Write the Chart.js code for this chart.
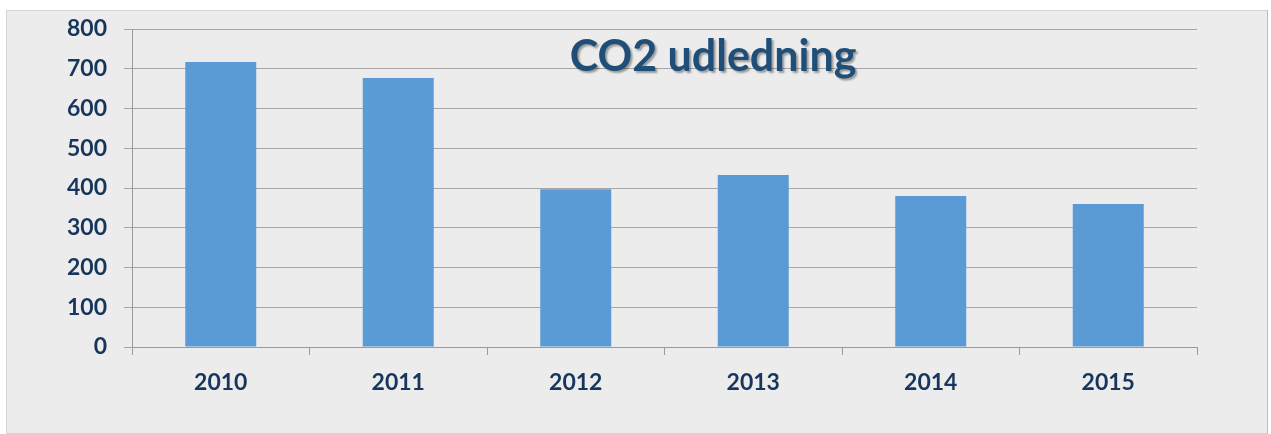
<!DOCTYPE html>
<html>
<head>
<meta charset="utf-8">
<script src="https://cdn.jsdelivr.net/npm/chart.js@4/dist/chart.umd.min.js"></script>
<style>
  body { margin: 0; background: #fff; }
  #box {
    position: absolute; left: 6px; top: 10px; width: 1260px; height: 422px;
    background: #ececec; border: 1px solid #d4d4d4; border-right-color: #bdbdbd;
  }
</style>
</head>
<body>
<div id="box"><canvas id="co2" width="1260" height="422"></canvas></div>
<script>
const years = ['2010', '2011', '2012', '2013', '2014', '2015']
const emissions = [717, 677, 397, 433, 380, 360]
const chartTitle = 'CO2 udledning'
const textColor = '#17365d'

const titlePlugin = {
    id: 'insideTitle',
    afterDraw(chart) {
        let ctx = chart.ctx
        ctx.save()
        ctx.font = 'bold 43px Lato'
        ctx.fillStyle = '#1f4e79'
        ctx.textAlign = 'center'
        ctx.textBaseline = 'middle'
        ctx.shadowColor = 'rgba(0,0,0,0.35)'
        ctx.shadowOffsetX = 2
        ctx.shadowOffsetY = 2
        ctx.shadowBlur = 2
        ctx.fillText(chartTitle, 706, 46)
        ctx.restore()
    }
}

let config = {
    type: 'bar',
    data: {
        labels: years,
        datasets: [{
            label: chartTitle,
            backgroundColor: '#5b9bd5',
            data: emissions,
            categoryPercentage: 1,
            barPercentage: 0.4
        }]
    },
    options: {
        responsive: false,
        animation: false,
        layout: { padding: { left: 0, right: 70, top: 0, bottom: 0 } },
        plugins: { legend: { display: false }, tooltip: { enabled: false } },
        scales: {
            x: {
                afterFit: s => { s.height = 86 },
                grid: { offset: true, drawOnChartArea: false, tickLength: 8, color: '#9a9a9a' },
                border: { color: '#9a9a9a' },
                ticks: { padding: 14, color: textColor, font: { family: 'Lato', size: 23, weight: 'bold' } }
            },
            y: {
                min: 0, max: 800,
                afterFit: s => { s.width = 125; s.paddingTop = 18; s.paddingBottom = 0 },
                grid: { tickLength: 8, color: '#a6a6a6' },
                border: { color: '#9a9a9a' },
                ticks: { stepSize: 100, padding: 17, color: textColor, font: { family: 'Lato', size: 23, weight: 'bold' } }
            }
        }
    },
    plugins: [titlePlugin]
}

new Chart(document.getElementById('co2'), config)
</script>
</body>
</html>
